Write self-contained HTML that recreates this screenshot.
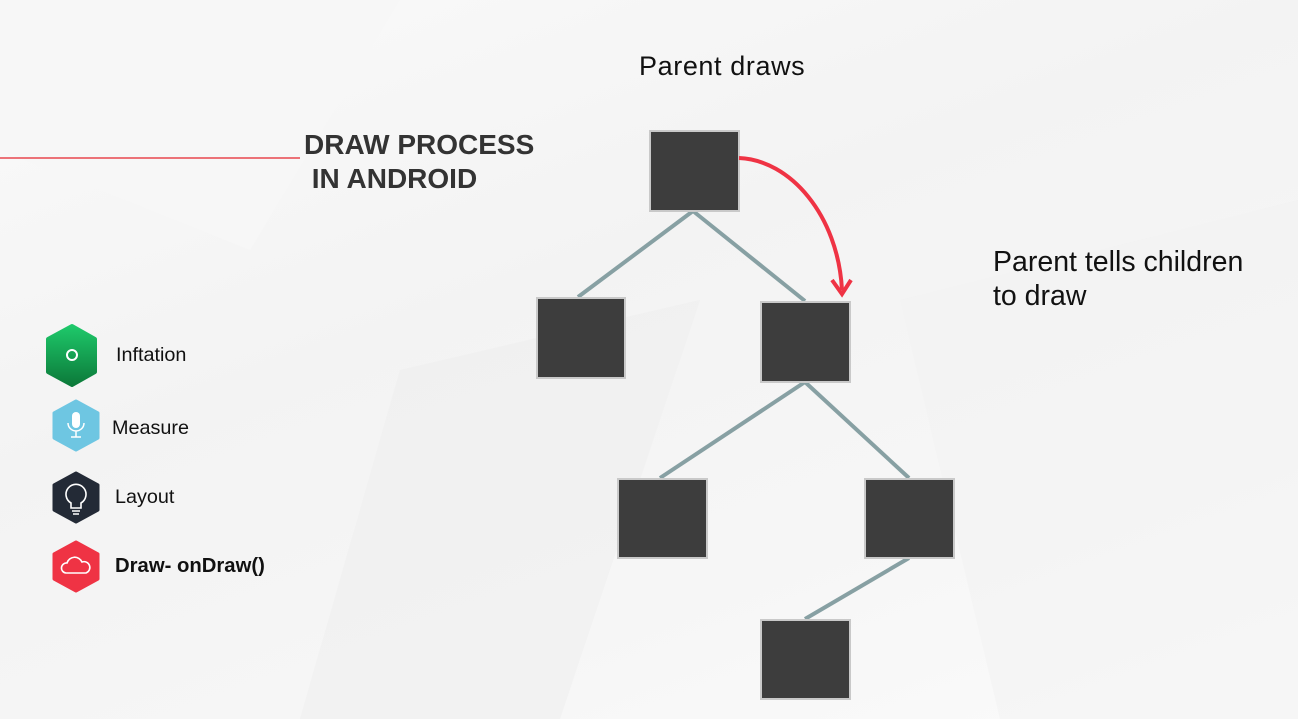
<!DOCTYPE html>
<html><head><meta charset="utf-8"><style>
html,body{margin:0;padding:0}
body{width:1298px;height:719px;position:relative;overflow:hidden;background:linear-gradient(160deg,#fafafa 0%,#f3f3f3 40%,#f6f6f6 70%,#fbfbfb 100%);font-family:"Liberation Sans",sans-serif;}
.t{position:absolute;color:#111;white-space:nowrap}
</style></head><body>
<svg width="1298" height="719" style="position:absolute;left:0;top:0">
<polygon points="0,0 400,0 250,250 0,150" fill="#f7f7f7"/>
<polygon points="400,370 700,300 560,719 300,719" fill="#eeeeee" opacity="0.5"/>
<polygon points="900,300 1298,200 1298,719 1000,719" fill="#f2f2f2" opacity="0.5"/>
<line x1="0" y1="158" x2="300" y2="158" stroke="#e8474f" stroke-width="1.5"/>
<g stroke="#87a0a3" stroke-width="4" fill="none">
<line x1="693" y1="211" x2="578" y2="297"/>
<line x1="693" y1="211" x2="805" y2="301"/>
<line x1="805" y1="382" x2="660" y2="478"/>
<line x1="805" y1="382" x2="909" y2="478"/>
<line x1="909" y1="558" x2="805" y2="619"/>
</g>
<g fill="#3d3d3d" stroke="#c9c9c9" stroke-width="2">
<rect x="650" y="131" width="89" height="80"/>
<rect x="537" y="298" width="88" height="80"/>
<rect x="761" y="302" width="89" height="80"/>
<rect x="618" y="479" width="89" height="79"/>
<rect x="865" y="479" width="89" height="79"/>
<rect x="761" y="620" width="89" height="79"/>
</g>
<path d="M739,158 C790,160 838,215 842,290" stroke="#ef3344" stroke-width="4" fill="none"/>
<polyline points="832,280 842,294 851,280" stroke="#ef3344" stroke-width="4" fill="none"/>
<defs><linearGradient id="g" x1="0" y1="0" x2="0" y2="1"><stop offset="0" stop-color="#1ec86a"/><stop offset="1" stop-color="#0c7a3a"/></linearGradient></defs>
<polygon points="72,326 95,339 95,372 72,385 48,372 48,339" fill="url(#g)" stroke="url(#g)" stroke-width="4" stroke-linejoin="round"/>
<circle cx="72" cy="355" r="5" fill="none" stroke="#fff" stroke-width="2"/>
<polygon points="76,401 98,413 98,438 76,450 54,438 54,413" fill="#6ec6e2" stroke="#6ec6e2" stroke-width="3" stroke-linejoin="round"/>
<rect x="72" y="412" width="8" height="16" rx="4" fill="#fff"/>
<path d="M68,423 a8,8 0 0 0 16,0 M76,431 v6 M71,437 h10" stroke="#fff" stroke-width="1.5" fill="none"/>
<polygon points="76,473 98,485 98,510 76,522 54,510 54,485" fill="#232a36" stroke="#232a36" stroke-width="3" stroke-linejoin="round"/>
<path d="M71,503 a10,10 0 1 1 10,0 v5 h-10 z M72,511 h8 M73,514 h6" stroke="#fff" stroke-width="1.6" fill="none"/>
<polygon points="76,542 98,554 98,579 76,591 54,579 54,554" fill="#ef3344" stroke="#ef3344" stroke-width="3" stroke-linejoin="round"/>
<path d="M66,573 a5,5 0 0 1 1,-10 a8,8 0 0 1 15,-1 a5,5 0 0 1 4,11 z" stroke="#fff" stroke-width="1.6" fill="none"/>
</svg>
<div class="t" style="left:639px;top:51px;font-size:27px;letter-spacing:0.6px">Parent draws</div>
<div class="t" style="left:304px;top:128px;font-size:28px;font-weight:bold;color:#333;line-height:34px">DRAW PROCESS<br>&nbsp;IN ANDROID</div>
<div class="t" style="left:993px;top:245px;font-size:28.5px;line-height:34px">Parent tells children<br>to draw</div>
<div class="t" style="left:116px;top:344px;font-size:19.8px">Inftation</div>
<div class="t" style="left:112px;top:417px;font-size:19.8px">Measure</div>
<div class="t" style="left:115px;top:486px;font-size:19.8px">Layout</div>
<div class="t" style="left:115px;top:555px;font-size:20.3px;font-weight:bold">Draw- onDraw()</div>
</body></html>
